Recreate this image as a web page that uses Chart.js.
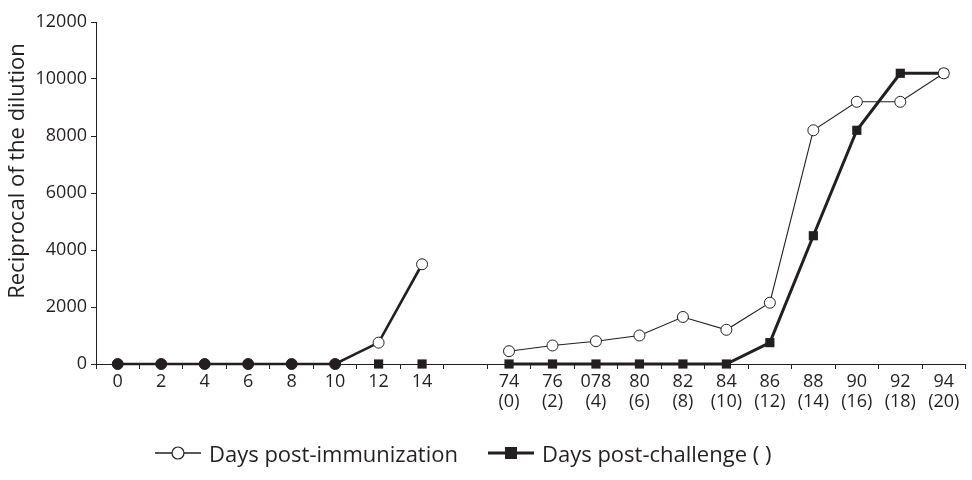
<!DOCTYPE html>
<html>
<head>
<meta charset="utf-8">
<title>Reciprocal of the dilution</title>
<script src="https://cdn.jsdelivr.net/npm/chart.js@4.4.1/dist/chart.umd.min.js"></script>
<style>
  html, body { margin: 0; padding: 0; background: #fff; }
  #wrap { position: relative; width: 972px; height: 480px; }
  #legend {
    position: absolute; left: 155px; top: 440px; height: 26px;
    display: flex; align-items: center;
    font-family: "Open Sans", sans-serif; font-size: 22px; color: #231f20;
  }
  #legend .item { display: flex; align-items: center; }
  #legend .item + .item { margin-left: 30px; }
  #legend svg { margin-right: 8px; }
</style>
</head>
<body>
<div id="wrap">
  <canvas id="chart" width="972" height="480"></canvas>
  <div id="legend">
    <div class="item">
      <svg width="46" height="16"><line x1="0" y1="8" x2="46" y2="8" stroke="#231f20" stroke-width="1.3"/><circle cx="23" cy="8" r="6" fill="#fff" stroke="#231f20" stroke-width="1.2"/></svg>
      <span>Days post-immunization</span>
    </div>
    <div class="item">
      <svg width="46" height="16"><line x1="0" y1="8" x2="46" y2="8" stroke="#231f20" stroke-width="3"/><rect x="17" y="2" width="12" height="12" fill="#231f20"/></svg>
      <span>Days post-challenge ( )</span>
    </div>
  </div>
</div>
<script>
  var dayLabels = ['0', '2', '4', '6', '8', '10', '12', '14', '', '74', '76', '078', '80', '82', '84', '86', '88', '90', '92', '94'];
  var challengeDays = ['', '', '', '', '', '', '', '', '', '(0)', '(2)', '(4)', '(6)', '(8)', '(10)', '(12)', '(14)', '(16)', '(18)', '(20)'];
  var immunization = [0, 0, 0, 0, 0, 0, 750, 3500, null, 450, 650, 800, 1000, 1650, 1200, 2150, 8200, 9200, 9200, 10200];
  var challenge = [null, null, null, null, null, null, 0, 0, null, 0, 0, 0, 0, 0, 0, 750, 4500, 8200, 10200, 10200];
  var yMin = 0, yMax = 12000, yStep = 2000;
  var yTitle = 'Reciprocal of the dilution';

  var ink = '#231f20';
  var font = "'Open Sans', sans-serif";

  var labels = dayLabels.map(function (d, i) {
    return challengeDays[i] ? [d, challengeDays[i]] : d;
  });

  // y title sits a bit above the axis centre in the original, so draw it here
  var yTitlePlugin = {
    id: 'yTitle',
    afterDraw: function (chart) {
      var c = chart.ctx;
      c.save();
      c.translate(18, 171);
      c.rotate(-Math.PI / 2);
      c.fillStyle = ink;
      c.font = "22px " + font;
      c.textAlign = 'center';
      c.textBaseline = 'middle';
      c.fillText(yTitle, 0, 0);
      c.restore();
    }
  };

  var ctx = document.getElementById('chart').getContext('2d');
  var chart = new Chart(ctx, {
    type: 'line',
    data: {
      labels: labels,
      datasets: [{
        label: 'Days post-immunization',
        data: immunization,
        borderColor: ink,
        borderWidth: 1,
        segment: {
          // first block of days is drawn heavier
          borderWidth: function (c) { return c.p1DataIndex <= 7 ? 2.6 : 1.1; }
        },
        pointStyle: 'circle',
        pointRadius: 5.5,
        pointBorderWidth: 1,
        pointBorderColor: ink,
        pointBackgroundColor: function (c) { return c.dataIndex < 6 ? ink : '#fff'; },
        tension: 0,
        spanGaps: false,
        clip: false
      }, {
        label: 'Days post-challenge ( )',
        data: challenge,
        borderColor: ink,
        borderWidth: 3,
        segment: {
          borderColor: function (c) { return c.p0DataIndex === 6 ? 'rgba(0,0,0,0)' : ink; }
        },
        pointStyle: 'rect',
        pointRadius: 6.5,
        pointBorderWidth: 0,
        pointBackgroundColor: ink,
        pointBorderColor: ink,
        tension: 0,
        spanGaps: false,
        clip: false
      }]
    },
    options: {
      responsive: false,
      animation: false,
      events: [],
      layout: { padding: { left: 0, right: 0, top: 22, bottom: 66 } },
      plugins: {
        legend: { display: false },
        tooltip: { enabled: false }
      },
      scales: {
        x: {
          type: 'category',
          offset: true,
          grid: { display: true, drawOnChartArea: false, offset: true, tickLength: 5, color: ink, tickColor: ink, lineWidth: 1 },
          border: { display: true, color: ink, width: 1 },
          ticks: { color: ink, font: { family: font, size: 18, lineHeight: 1.1 }, padding: 3, autoSkip: false, maxRotation: 0 },
          afterFit: function (s) { s.height = 50; }
        },
        y: {
          min: yMin,
          max: yMax,
          grid: { display: true, drawOnChartArea: false, tickLength: 5, color: ink, tickColor: ink, lineWidth: 1 },
          border: { display: true, color: ink, width: 1 },
          ticks: {
            stepSize: yStep, color: ink, font: { family: font, size: 18 }, padding: 4,
            callback: function (v) { return String(v); }
          },
          afterFit: function (s) { s.width = 96; }
        }
      }
    },
    plugins: [yTitlePlugin]
  });
</script>
</body>
</html>
